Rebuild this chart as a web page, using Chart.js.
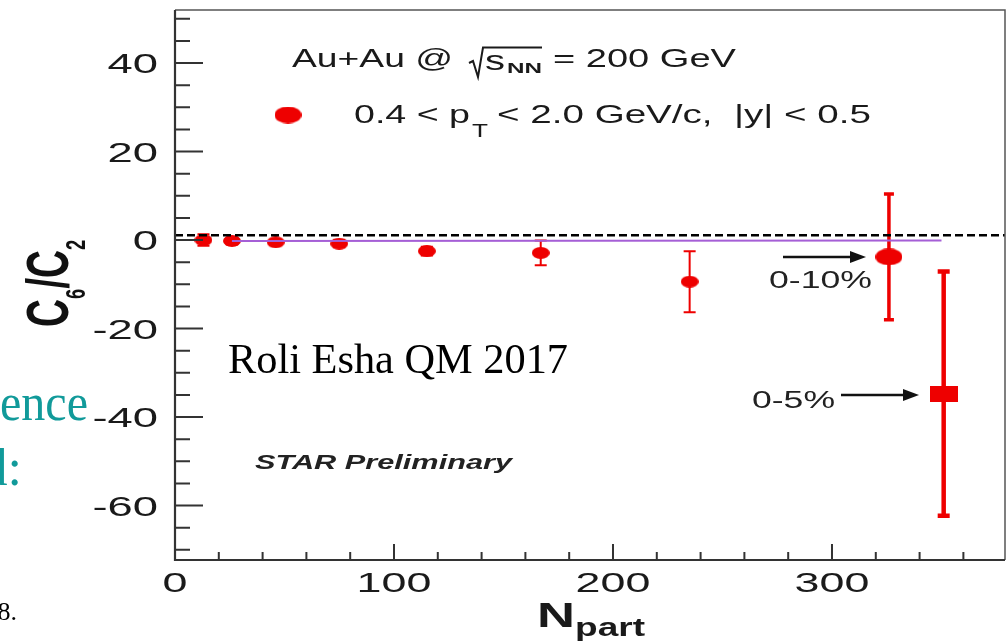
<!DOCTYPE html>
<html>
<head>
<meta charset="utf-8">
<script src="https://cdn.jsdelivr.net/npm/chart.js@4.4.0/dist/chart.umd.min.js"></script>
<style>
  html, body { margin: 0; padding: 0; background: #fff; overflow: hidden; }
</style>
</head>
<body>
<canvas id="chart" width="1006" height="641"></canvas>
<script>
// values
const npart = [13, 26, 46, 75, 115, 167, 235];
const c6c2 = [0.0, -0.2, -0.5, -0.8, -2.5, -2.9, -9.4];
const c6c2Err = [1.3, 0.8, 0.6, 0.8, 1.0, 2.8, 6.9];

// 0-10% and 0-5% central points
const npart010 = [326];
const c6c2010 = [-3.8];
const err010 = [14.2];
const npart05 = [351];
const c6c205 = [-34.7];
const err05 = [27.6];

// purple fit line and dashed reference line
const fitX = [26, 350];
const fitY = [-0.2, -0.1];
const refX = [0, 379];
const refY = [1.1, 1.1];

// axes
const xTicks = [0, 100, 200, 300];
const xMinor = [20, 40, 60, 80, 120, 140, 160, 180, 220, 240, 260, 280, 320, 340, 360];
const yTicks = [-60, -40, -20, 0, 20, 40];
const yMinor = [-70, -65, -55, -50, -45, -35, -30, -25, -15, -10, -5, 5, 10, 15, 25, 30, 35, 45, 50];

const RED = '#ee0000';
const SANS = '"Liberation Sans", Arial, sans-serif';
const SERIF = '"Liberation Serif", "Times New Roman", serif';

function toPts(xs, ys) {
  return xs.map((x, i) => ({ x: x, y: ys[i] }));
}

// ellipse / box markers (the picture is stretched sideways)
function ellipseImg(w, h) {
  const c = document.createElement('canvas');
  c.width = w; c.height = h;
  const g = c.getContext('2d');
  g.fillStyle = RED;
  g.beginPath();
  g.ellipse(w / 2, h / 2, w / 2, h / 2, 0, 0, Math.PI * 2);
  g.fill();
  return c;
}
function boxImg(w, h) {
  const c = document.createElement('canvas');
  c.width = w; c.height = h;
  const g = c.getContext('2d');
  g.fillStyle = RED;
  g.fillRect(0, 0, w, h);
  return c;
}
const smallDot = ellipseImg(18, 12);
const bigDot = ellipseImg(27, 17);
const legendDot = ellipseImg(27, 17);
const box = boxImg(28, 16);

// text squeezed/stretched to a given width
function fitText(ctx, text, font, x, y, w, color) {
  ctx.save();
  ctx.font = font;
  const nat = ctx.measureText(text).width;
  ctx.translate(x, y);
  ctx.scale(w / nat, 1);
  ctx.fillStyle = color || '#1a1a1a';
  ctx.textAlign = 'left';
  ctx.textBaseline = 'alphabetic';
  ctx.fillText(text, 0, 0);
  ctx.restore();
}

function arrow(ctx, x1, x2, y) {
  ctx.save();
  ctx.strokeStyle = '#111';
  ctx.fillStyle = '#111';
  ctx.lineWidth = 2.5;
  ctx.beginPath();
  ctx.moveTo(x1, y);
  ctx.lineTo(x2 - 12, y);
  ctx.stroke();
  ctx.beginPath();
  ctx.moveTo(x2 - 16, y - 6);
  ctx.lineTo(x2, y);
  ctx.lineTo(x2 - 16, y + 6);
  ctx.closePath();
  ctx.fill();
  ctx.restore();
}

const errorBars = {
  id: 'errorBars',
  beforeDatasetsDraw(chart) {
    const { ctx, scales: { x, y } } = chart;
    function bars(xs, ys, es, lw, cap) {
      ctx.save();
      ctx.strokeStyle = RED;
      ctx.lineWidth = lw;
      xs.forEach((v, i) => {
        const px = x.getPixelForValue(v);
        const top = y.getPixelForValue(ys[i] + es[i]);
        const bot = y.getPixelForValue(ys[i] - es[i]);
        ctx.beginPath();
        ctx.moveTo(px, top); ctx.lineTo(px, bot);
        ctx.moveTo(px - cap, top); ctx.lineTo(px + cap, top);
        ctx.moveTo(px - cap, bot); ctx.lineTo(px + cap, bot);
        ctx.stroke();
      });
      ctx.restore();
    }
    bars(npart, c6c2, c6c2Err, 2, 6);
    bars(npart010, c6c2010, err010, 3.5, 5);
    bars(npart05, c6c205, err05, 4.5, 6);
  }
};

const frame = {
  id: 'frame',
  afterDraw(chart) {
    const { ctx, chartArea: a, scales: { x, y } } = chart;
    ctx.save();
    // box
    ctx.strokeStyle = '#555';
    ctx.lineWidth = 1.5;
    ctx.beginPath();
    ctx.moveTo(a.left, a.top); ctx.lineTo(a.right, a.top); ctx.lineTo(a.right, a.bottom);
    ctx.stroke();
    ctx.strokeStyle = '#333';
    ctx.lineWidth = 2.2;
    ctx.beginPath();
    ctx.moveTo(a.left, a.top); ctx.lineTo(a.left, a.bottom); ctx.lineTo(a.right, a.bottom);
    ctx.stroke();

    // inward ticks
    ctx.lineWidth = 2;
    ctx.beginPath();
    yTicks.forEach(v => { const p = y.getPixelForValue(v); ctx.moveTo(a.left, p); ctx.lineTo(a.left + 28, p); });
    yMinor.forEach(v => { const p = y.getPixelForValue(v); ctx.moveTo(a.left, p); ctx.lineTo(a.left + 15, p); });
    xTicks.forEach(v => { const p = x.getPixelForValue(v); ctx.moveTo(p, a.bottom); ctx.lineTo(p, a.bottom - 16); });
    xMinor.forEach(v => { const p = x.getPixelForValue(v); ctx.moveTo(p, a.bottom); ctx.lineTo(p, a.bottom - 8); });
    ctx.stroke();

    // tick labels
    ctx.fillStyle = '#1a1a1a';
    ctx.font = '28px ' + SANS;
    ctx.textBaseline = 'alphabetic';
    yTicks.forEach(v => {
      ctx.save();
      ctx.translate(158, y.getPixelForValue(v) + 10.3);
      ctx.scale(1.62, 1);
      ctx.textAlign = 'right';
      ctx.fillText(String(v), 0, 0);
      ctx.restore();
    });
    xTicks.forEach(v => {
      ctx.save();
      ctx.translate(x.getPixelForValue(v), 591.5);
      ctx.scale(1.6, 1);
      ctx.textAlign = 'center';
      ctx.fillText(String(v), 0, 0);
      ctx.restore();
    });

    // x title N_part
    fitText(ctx, 'N', 'bold 35px ' + SANS, 537, 626.5, 38);
    fitText(ctx, 'part', 'bold 26px ' + SANS, 575, 635.5, 70);

    // y title C6/C2, rotated
    ctx.save();
    ctx.translate(68, 327);
    ctx.rotate(-Math.PI / 2);
    ctx.scale(0.97, 1.5);
    ctx.fillStyle = '#111';
    let cx = 0;
    [['C', 'bold 40px ', 0], ['6', 'bold 19px ', 11], ['/', 'bold 40px ', 0], ['C', 'bold 40px ', 0], ['2', 'bold 19px ', 11]]
      .forEach(s => {
        ctx.font = s[1] + SANS;
        ctx.fillText(s[0], cx, s[2]);
        cx += ctx.measureText(s[0]).width;
      });
    ctx.restore();

    // header text
    fitText(ctx, 'Au+Au @', '25px ' + SANS, 292, 67, 161);
    ctx.strokeStyle = '#1a1a1a';
    ctx.lineWidth = 2;
    ctx.beginPath();
    ctx.moveTo(469, 63); ctx.lineTo(473, 61); ctx.lineTo(478, 77); ctx.lineTo(483, 47.5); ctx.lineTo(542, 47.5);
    ctx.stroke();
    fitText(ctx, 's', '27px ' + SANS, 485, 70, 20);
    fitText(ctx, 'NN', 'bold 14px ' + SANS, 507, 73.3, 35);
    fitText(ctx, '= 200 GeV', '25px ' + SANS, 553, 67, 183);

    // legend
    ctx.drawImage(legendDot, 288 - legendDot.width / 2, 115 - legendDot.height / 2);
    fitText(ctx, '0.4 < p', '25px ' + SANS, 354, 122.7, 116);
    fitText(ctx, 'T', '18px ' + SANS, 472, 137, 16);
    fitText(ctx, '< 2.0 GeV/c,  |y| < 0.5', '25px ' + SANS, 497, 122.7, 374);

    // notes
    fitText(ctx, 'Roli Esha QM 2017', '42px ' + SERIF, 228, 372.7, 340, '#000');
    fitText(ctx, 'STAR Preliminary', 'italic bold 20px ' + SANS, 255, 469.3, 257, '#222');
    fitText(ctx, '0-10%', '23px ' + SANS, 769, 288.3, 103, '#222');
    fitText(ctx, '0-5%', '23px ' + SANS, 752, 408.3, 83, '#222');
    arrow(ctx, 783, 866, 257);
    arrow(ctx, 841, 919, 395);

    // slide text peeking from behind
    fitText(ctx, 'ence', '52px ' + SERIF, 0, 420, 88, '#119a9a');
    ctx.font = '52px ' + SERIF;
    ctx.fillStyle = '#119a9a';
    ctx.textAlign = 'right';
    ctx.fillText('d:', 22, 485);
    ctx.font = '26px ' + SERIF;
    ctx.fillStyle = '#000';
    ctx.fillText('8.', 17, 620);
    ctx.restore();
  }
};

new Chart(document.getElementById('chart'), {
  type: 'scatter',
  data: {
    datasets: [
      {
        data: toPts(refX, refY), showLine: true, borderColor: '#000', borderWidth: 2.5,
        borderDash: [8, 4], pointRadius: 0, order: 0
      },
      {
        data: toPts(fitX, fitY), showLine: true, borderColor: '#a55fd6', borderWidth: 2,
        pointRadius: 0, order: 0
      },
      { data: toPts(npart, c6c2), pointStyle: smallDot, pointRadius: 8, order: 1 },
      { data: toPts(npart010, c6c2010), pointStyle: bigDot, pointRadius: 8, order: 1 },
      { data: toPts(npart05, c6c205), pointStyle: box, pointRadius: 8, order: 1 }
    ]
  },
  options: {
    responsive: false,
    animation: false,
    layout: { autoPadding: false, padding: { top: 10, right: 1, left: 0, bottom: 0 } },
    plugins: { legend: { display: false }, tooltip: { enabled: false } },
    scales: {
      x: {
        type: 'linear', min: 0, max: 379,
        grid: { display: false }, border: { display: false }, ticks: { display: false },
        afterFit(s) { s.height = 81; }
      },
      y: {
        type: 'linear', min: -72.3, max: 52,
        grid: { display: false }, border: { display: false }, ticks: { display: false },
        afterFit(s) { s.width = 175; }
      }
    }
  },
  plugins: [errorBars, frame]
});
</script>
</body>
</html>
